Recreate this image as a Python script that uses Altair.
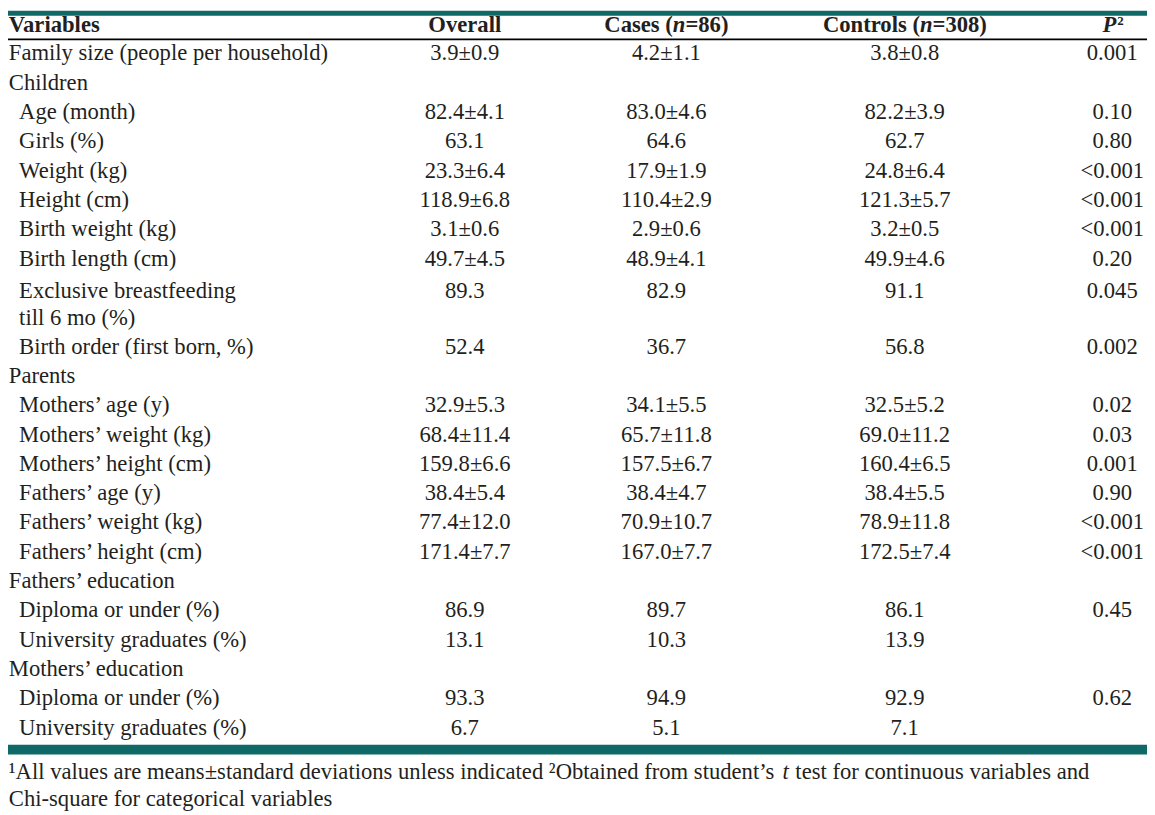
import altair as alt
import pandas as pd

# ---------------- data ----------------
row_labels = [
    "Family size (people per household)", "Children", "Age (month)", "Girls (%)",
    "Weight (kg)", "Height (cm)", "Birth weight (kg)", "Birth length (cm)",
    "Exclusive breastfeeding\ntill 6 mo (%)", "Birth order (first born, %)", "Parents",
    "Mothers’ age (y)", "Mothers’ weight (kg)", "Mothers’ height (cm)",
    "Fathers’ age (y)", "Fathers’ weight (kg)", "Fathers’ height (cm)",
    "Fathers’ education", "Diploma or under (%)", "University graduates (%)",
    "Mothers’ education", "Diploma or under (%)", "University graduates (%)",
]
row_indent = [0, 0, 1, 1, 1, 1, 1, 1, 1, 1, 0, 1, 1, 1, 1, 1, 1, 0, 1, 1, 0, 1, 1]
row_line = [1, 2, 3, 4, 5, 6, 7, 8, 9.1, 11, 12, 13, 14, 15, 16, 17, 18, 19, 20, 21, 22, 23, 24]

overall = ["3.9±0.9", "", "82.4±4.1", "63.1", "23.3±6.4", "118.9±6.8", "3.1±0.6", "49.7±4.5",
           "89.3", "52.4", "", "32.9±5.3", "68.4±11.4", "159.8±6.6", "38.4±5.4", "77.4±12.0",
           "171.4±7.7", "", "86.9", "13.1", "", "93.3", "6.7"]
cases = ["4.2±1.1", "", "83.0±4.6", "64.6", "17.9±1.9", "110.4±2.9", "2.9±0.6", "48.9±4.1",
         "82.9", "36.7", "", "34.1±5.5", "65.7±11.8", "157.5±6.7", "38.4±4.7", "70.9±10.7",
         "167.0±7.7", "", "89.7", "10.3", "", "94.9", "5.1"]
controls = ["3.8±0.8", "", "82.2±3.9", "62.7", "24.8±6.4", "121.3±5.7", "3.2±0.5", "49.9±4.6",
            "91.1", "56.8", "", "32.5±5.2", "69.0±11.2", "160.4±6.5", "38.4±5.5", "78.9±11.8",
            "172.5±7.4", "", "86.1", "13.9", "", "92.9", "7.1"]
pvalues = ["0.001", "", "0.10", "0.80", "<0.001", "<0.001", "<0.001", "0.20",
           "0.045", "0.002", "", "0.02", "0.03", "0.001", "0.90", "<0.001",
           "<0.001", "", "0.45", "", "", "0.62", ""]

footnote_1a = "¹All values are means±standard deviations unless indicated ²Obtained from student’s"
footnote_1b = "t"
footnote_1c = "test for continuous variables and"
footnote_2 = "Chi-square for categorical variables"

# ---------------- layout (reference pixel geometry) ----------------
FONT = "Liberation Serif"
FS = 22.8
INK = "#231f20"
TEAL = "#0f6a67"
W, H = 1147, 807

COL_X = {"overall": 468, "cases": 671, "controls": 911, "p": 1120}
LABEL_X = {0: 1, 1: 14}


def line_y(line):
    return 58 + 29.52 * (line - 1)


# reference pixels -> chart pixels (page has an 8px margin; squeeze only the edge strip)
X = alt.Scale(domain=[0, 40, 1155], range=[0, 32, W])
Y = alt.Scale(domain=[0, 45, 815], range=[0, 37, H])


def xy():
    return dict(
        x=alt.X("x:Q", scale=X, axis=None),
        y=alt.Y("y:Q", scale=Y, axis=None),
    )


lab_df = pd.DataFrame({
    "text": row_labels,
    "x": [LABEL_X[i] for i in row_indent],
    "y": [line_y(l) for l in row_line],
})

val_rows = []
for col, vals in [("overall", overall), ("cases", cases), ("controls", controls), ("p", pvalues)]:
    for v, l in zip(vals, row_line):
        if v:
            val_rows.append({"text": v, "x": COL_X[col], "y": line_y(l)})
val_df = pd.DataFrame(val_rows)

HB = 26  # header baseline
head_center_df = pd.DataFrame({"text": ["Overall"], "x": [COL_X["overall"]], "y": [HB]})
head_left_df = pd.DataFrame({"text": ["Variables"], "x": [1], "y": [HB]})

n_w = 0.556 * FS
cases_start = COL_X["cases"] - 5.486 * FS / 2
cases_n = cases_start + 3.027 * FS
ctrl_start = COL_X["controls"] - 7.264 * FS / 2
ctrl_n = ctrl_start + 4.305 * FS
head_pre_df = pd.DataFrame({"text": ["Cases (", "Controls ("], "x": [cases_n, ctrl_n], "y": [HB, HB]})
head_n_df = pd.DataFrame({"text": ["n", "n"], "x": [cases_n, ctrl_n], "y": [HB, HB]})
head_post_df = pd.DataFrame({"text": ["=86)", "=308)"], "x": [cases_n + n_w, ctrl_n + n_w], "y": [HB, HB]})

p_df = pd.DataFrame({"text": ["P"], "x": [1124], "y": [HB]})
p2_df = pd.DataFrame({"text": ["2"], "x": [1125], "y": [17]})

# footnotes (first line is justified in the reference: its end sits at x=1097)
F1, F2 = 781.5, 808.5
LINE_END = 1097
T_RIGHT = LINE_END - 13.028 * FS - 0.25 * FS
fa_df = pd.DataFrame({"text": [footnote_1a, footnote_2], "x": [1, 1], "y": [F1, F2]})
fb_df = pd.DataFrame({"text": [footnote_1b], "x": [T_RIGHT], "y": [F1]})
fc_df = pd.DataFrame({"text": [footnote_1c], "x": [LINE_END], "y": [F1]})

bars_df = pd.DataFrame({"x": [0, 0], "x2": [1155, 1155], "y": [0, 747], "y2": [6, 757]})
hline_df = pd.DataFrame({"x": [0], "x2": [1155], "y": [35.0]})


def text_layer(df, align="left", weight="normal", style="normal", size=FS):
    return alt.Chart(df).mark_text(
        align=align, baseline="alphabetic", font=FONT, fontSize=size,
        fontWeight=weight, fontStyle=style, color=INK, lineBreak="\n", lineHeight=27,
    ).encode(text="text:N", **xy())


bars = alt.Chart(bars_df).mark_rect(color=TEAL).encode(
    x=alt.X("x:Q", scale=X, axis=None), x2="x2:Q",
    y=alt.Y("y:Q", scale=Y, axis=None), y2="y2:Q",
)
hline = alt.Chart(hline_df).mark_rule(color="#000000", strokeWidth=1.8, strokeCap="butt").encode(
    x=alt.X("x:Q", scale=X, axis=None), x2="x2:Q",
    y=alt.Y("y:Q", scale=Y, axis=None),
)

chart = alt.layer(
    bars,
    text_layer(lab_df),
    text_layer(val_df, align="center"),
    text_layer(head_left_df, weight="bold"),
    text_layer(head_center_df, align="center", weight="bold"),
    text_layer(head_pre_df, align="right", weight="bold"),
    text_layer(head_n_df, weight="bold", style="italic"),
    text_layer(head_post_df, weight="bold"),
    text_layer(p_df, align="right", weight="bold", style="italic"),
    text_layer(p2_df, weight="bold", size=13),
    text_layer(fa_df),
    text_layer(fb_df, align="right", style="italic"),
    text_layer(fc_df, align="right"),
    hline,
).properties(
    width=W, height=H,
    autosize=alt.AutoSizeParams(type="none"),
    padding=0,
    background="white",
).configure_view(stroke=None)

chart.save("out.html", embed_options={"renderer": "svg", "actions": False})
